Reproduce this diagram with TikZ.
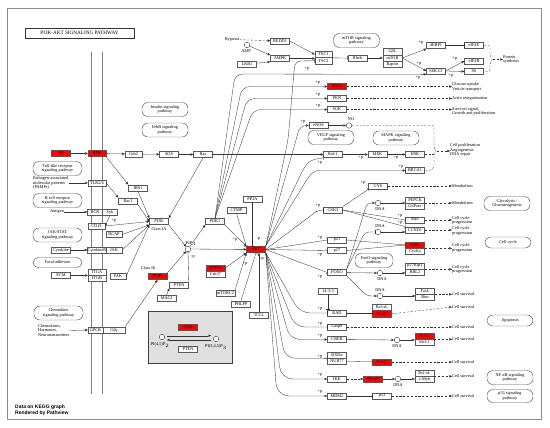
\documentclass[tikz,border=0pt]{standalone}
\usepackage{fontspec}
\setmainfont{Liberation Serif}
\newfontfamily\lsans{Liberation Sans}
\usetikzlibrary{arrows.meta,calc}
\newcommand\kf{\fontsize{4.3}{4.6}\selectfont}
\begin{document}
\begin{tikzpicture}[x=1pt,y=-1pt,
 gb/.style={draw=black!65,line width=0.4pt,fill=white,minimum width=19pt,minimum height=6.3pt,inner sep=0pt,font=\kf},
 rb/.style={gb,fill=red},
 pw/.style={draw=black!65,line width=0.45pt,rounded corners=6pt,minimum width=46pt,minimum height=14pt,inner sep=0pt,align=center,font=\kf},
 tx/.style={inner sep=0pt,font=\kf,align=left},
 cir/.style={circle,draw=black!75,line width=0.4pt,fill=white,minimum size=5.5pt,inner sep=0pt},
 ln/.style={line width=0.32pt,draw=black!80},
 ar/.style={ln,-{Triangle[length=2.7pt,width=2.3pt]}},
 ih/.style={ln,-{Bar[width=4.2pt]}},
 ds/.style={ln,dash pattern=on 2.2pt off 1.6pt},
 dar/.style={ds,-{Triangle[length=2.7pt,width=2.3pt]}},
]
\useasboundingbox (0,0) rectangle (550,428);
\fill[white] (0,0) rectangle (550,428);
\draw[black!45,line width=1pt] (7,9) rectangle (541,419);
% membrane
\draw[black!50,line width=0.9pt] (91,52) -- (91,394);
\draw[black!50,line width=0.9pt] (102,52) -- (102,394);
% title
\node[draw=black!80,line width=0.7pt,minimum width=109pt,minimum height=10pt,inner sep=0pt,font=\fontsize{5.2}{6}\selectfont] (title) at (79.5,33) {PI3K-AKT SIGNALING PATHWAY};

% ---------- top ----------
\node[tx] (hyp) at (232,39.5) {Hypoxia};
\node[gb] (redd1) at (280,41) {REDD1};
\node[cir] (amp) at (247,45) {};
\node[tx] (ampl) at (246,51.5) {AMP};
\node[gb] (lkb1) at (247,64) {LKB1};
\node[gb] (ampk) at (280,58.5) {AMPK};
\node[gb,minimum width=17pt] (tsc1) at (323.5,54.5) {TSC1};
\node[gb,minimum width=17pt] (tsc2) at (323.5,60.8) {TSC2};
\node[pw] (mtorpw) at (356.5,40.5) {mTOR signaling\\pathway};
\node[gb] (rheb) at (357.5,58) {Rheb};
\node[gb] (gbl) at (392.5,51.7) {GβL};
\node[gb] (mtor) at (392.5,58) {mTOR};
\node[gb] (raptor) at (392.5,64.3) {Raptor};
\node[gb] (ebp) at (436,45.5) {4EBP1};
\node[gb] (eif4e) at (474,45.5) {eIF4E};
\node[gb] (eif4b) at (474,61) {eIF4B};
\node[gb] (s6) at (474,71.5) {S6};
\node[gb] (s6k) at (436,71) {S6K1/2};
\node[tx,anchor=west] (psyn) at (503,59.5) {Protein\\synthesis};

\node[rb] (pkc) at (337,86.5) {PKCs};
\node[gb] (pkn) at (337,98.5) {PKN};
\node[gb] (sgk) at (337,109.5) {SGK};
\node[tx,anchor=west] (glu) at (452,87) {Glucose uptake\\Vesicle transport};
\node[tx,anchor=west] (act) at (452,98.5) {Actin reorganization};
\node[tx,anchor=west] (surv) at (452,111.5) {Survival signal,\\Growth and proliferation};
\node[gb] (enos) at (318.5,125.5) {eNOS};
\node[cir] (no) at (349,125.5) {};
\node[tx] (nol) at (351,119.5) {NO};
\node[pw] (vegf) at (331,137.5) {VEGF signaling\\pathway};
\node[pw] (mapk) at (396,138) {MAPK signaling\\pathway};
\node[gb] (raf1) at (333,154.5) {Raf-1};
\node[gb] (mek) at (377.5,154.5) {MEK};
\node[gb] (erk) at (415,154.5) {ERK};
\node[gb] (brca1) at (415,170.5) {BRCA1};
\node[tx,anchor=west] (cprol) at (450,150) {Cell proliferation\\Angiogenesis\\DNA repair};

\node[gb] (gys) at (378,186) {GYS};
\node[tx,anchor=west] (met1) at (452,186) {Metabolism};
\node[gb] (gsk3) at (333,210) {GSK3};
\node[cir] (dna1) at (378,203) {};
\node[tx] (dna1l) at (380,209) {DNA};
\node[gb] (pepck) at (415,200) {PEPCK};
\node[gb] (g6pase) at (415,206.3) {G6Pase};
\node[tx,anchor=west] (met2) at (452,203.2) {Metabolism};
\node[pw] (glyc) at (507,203.5) {Glycolysis /\\Gluconeogenesis};
\node[gb] (myc) at (415,220) {Myc};
\node[gb] (ccnd1) at (415,230) {CCND1};
\node[cir] (dna2) at (378,232) {};
\node[tx] (dna2l) at (380,226.5) {DNA};
\node[tx,anchor=west] (ccp1) at (452,220.5) {Cell cycle\\progression};
\node[tx,anchor=west] (ccp2) at (452,231) {Cell cycle\\progression};
\node[rb] (cdk) at (415,245) {CDK};
\node[gb] (cyclin) at (415,251.3) {Cyclin};
\node[tx,anchor=west] (ccp3) at (452,248) {Cell cycle\\progression};
\node[pw,minimum height=11pt] (ccyc) at (508,242.5) {Cell cycle};
\node[gb] (p21) at (337,240) {p21};
\node[gb] (p27) at (337,250.5) {p27};
\node[pw,minimum width=38pt] (foxopw) at (374,260.5) {FoxO signaling\\pathway};
\node[gb] (foxo) at (337,272.5) {FOXO};
\node[cir] (dna3) at (380,273) {};
\node[tx] (dna3l) at (382,279) {DNA};
\node[gb] (p27k) at (415,266) {p27Kip1};
\node[gb] (rbl2) at (415,272.3) {RBL2};
\node[tx,anchor=west] (ccp4) at (452,269.5) {Cell cycle\\progression};

% ---------- lower right ----------
\node[gb] (n1433) at (328,291) {14-3-3};
\node[cir] (dna4) at (380,296) {};
\node[tx] (dna4l) at (380,290) {DNA};
\node[gb] (fasl) at (425,291) {FasL};
\node[gb] (bim) at (425,297.3) {Bim};
\node[tx,anchor=west] (cs1) at (452,294.5) {Cell survival};
\node[gb] (bad) at (337,313) {BAD};
\node[gb] (bclxl1) at (382,307.5) {Bcl-xL};
\node[rb] (bcl2a) at (382,313.8) {Bcl-2};
\node[tx,anchor=west] (cs2) at (452,307) {Cell survival};
\node[pw,minimum height=11pt] (apop) at (510,320.5) {Apoptosis};
\node[gb] (casp9) at (337,327) {Casp9};
\node[tx,anchor=west] (cs3) at (452,327) {Cell survival};
\node[gb] (creb) at (337,339.5) {CREB};
\node[cir] (dna5) at (397,340) {};
\node[tx] (dna5l) at (397,346) {DNA};
\node[rb] (bcl2b) at (424.5,336) {Bcl-2};
\node[gb] (mcl1) at (424.5,342.3) {Mcl-1};
\node[tx,anchor=west] (cs4) at (452,339.2) {Cell survival};
\node[gb] (rxra) at (337,355) {RXRα};
\node[gb] (nur77) at (337,361.3) {NUR77};
\node[rb] (bcl2c) at (382,362) {Bcl-2};
\node[tx,anchor=west] (cs5) at (452,362) {Cell survival};
\node[gb] (ikk) at (337,379) {IKK};
\node[rb] (nfkb) at (373,379) {NF-κB};
\node[cir] (dna6) at (398,379) {};
\node[tx] (dna6l) at (398,385) {DNA};
\node[gb] (bclxl2) at (424.5,373) {Bcl-xL};
\node[gb] (cmyb) at (424.5,379.3) {c-Myb};
\node[tx,anchor=west] (cs6) at (452,376.2) {Cell survival};
\node[pw] (nfkbpw) at (510,377.5) {NF-κB signaling\\pathway};
\node[gb] (mdm2) at (337,396) {MDM2};
\node[gb] (p53) at (382,396) {p53};
\node[tx,anchor=west] (cs7) at (452,396) {Cell survival};
\node[pw,minimum height=13pt] (p53pw) at (510,396) {p53 signaling\\pathway};

% ---------- left ----------
\node[rb] (gf) at (61,153.5) {GF};
\node[rb,minimum width=18pt] (rtk) at (97,153.5) {RTK};
\node[gb,minimum width=17pt] (grb2) at (133.5,154) {Grb2};
\node[gb] (sos) at (169,154.5) {SOS};
\node[gb] (ras) at (203,154.5) {Ras};
\node[pw] (insul) at (165,109.5) {Insulin signaling\\pathway};
\node[pw] (erbb) at (165,130) {ErbB signaling\\pathway};
\node[pw,minimum width=49pt] (tlr) at (57.5,168.5) {Toll-like receptor\\signaling pathway};
\node[tx,anchor=west] (pamp) at (33,183) {Pathogen-associated\\molecular patterns\\(PAMPs)};
\node[gb,minimum width=18pt] (tlr24) at (97,183) {TLR2/4};
\node[gb] (irs1) at (138,188) {IRS1};
\node[gb] (rac1) at (128,201) {Rac1};
\node[pw,minimum width=49pt] (bcell) at (57.5,200.5) {B cell receptor\\signaling pathway};
\node[tx] (antigen) at (57,212) {Antigen};
\node[gb,minimum width=15pt] (bcr) at (95,212) {BCR};
\node[gb,minimum width=15pt] (syk) at (110,212) {Syk};
\node[gb,minimum width=17pt] (cd19) at (96.5,226) {CD19};
\node[gb,minimum width=16pt] (bcap) at (114,234.5) {BCAP};
\node[pw,minimum width=49pt] (jakstat) at (57.5,235) {JAK/STAT\\signaling pathway};
\node[gb] (cytok) at (61,250) {Cytokine};
\node[gb,minimum width=18pt] (cytokr) at (97,250) {CytokineR};
\node[gb,minimum width=16pt] (jak) at (114,250) {JAK};
\node[pw,minimum width=49pt,minimum height=10pt] (focal) at (57.5,262.5) {Focal adhesion};
\node[gb] (ecm) at (61,275.5) {ECM};
\node[gb,minimum width=18pt] (itga) at (97,272) {ITGA};
\node[gb,minimum width=18pt] (itgb) at (97,278.3) {ITGB};
\node[gb,minimum width=16pt] (fak) at (118,276) {FAK};
\node[pw,minimum width=49pt] (chemo) at (58.5,313) {Chemokine\\signaling pathway};
\node[tx,anchor=west] (chemk) at (38,330.5) {Chemokines,\\Hormones,\\Neurotransmitters};
\node[gb,minimum width=15pt] (gpcr) at (95.5,330) {GPCR};
\node[gb,minimum width=22pt] (gbg) at (114,330) {Gβγ};

% ---------- center ----------
\node[gb] (pi3k) at (159,221.5) {PI3K};
\node[tx] (cl1a) at (159,228.8) {Class IA};
\node[gb] (pdk1) at (215,221.5) {PDK1};
\node[gb] (ctmp) at (236.5,210) {CTMP};
\node[gb] (pp2a) at (252.5,199) {PP2A};
\node[cir] (pip3) at (188,249) {};
\node[tx] (pip3l) at (191,243.5) {PIP$_3$};
\node[rb] (akt) at (256,249.5) {AKT};
\node[tx] (cl1b) at (148,268) {Class Ib};
\node[rb] (pi3kb) at (157.5,276.5) {PI3K};
\node[rb] (hsp90) at (215.5,268) {HSP90};
\node[gb] (cdc37) at (215.5,274.3) {Cdc37};
\node[gb] (pten) at (179,285) {PTEN};
\node[gb] (magi) at (166.5,298.5) {MAGI};
\node[gb] (mtorc2) at (225.5,293) {mTORC2};
\node[gb] (phlpp) at (241,304) {PHLPP};
\node[gb] (tcl1) at (259,315) {TCL1};
% legend
\node[draw=black!75,line width=0.8pt,fill=black!12,minimum width=84pt,minimum height=52pt,inner sep=0pt] (leg) at (190,337) {};
\node[rb] (lpi3k) at (188,327) {PI3K};
\node[cir] (lc1) at (162,337) {};
\node[tx] (lc1l) at (160,345) {PI(4,5)P$_2$};
\node[cir] (lc2) at (216,339) {};
\node[tx] (lc2l) at (216,347) {PI(3,4,5)P$_3$};
\node[gb] (lpten) at (188,349) {PTEN};
\node[tx,anchor=west,font=\lsans\bfseries\fontsize{5}{5.8}\selectfont] (credit) at (15,410.5) {Data on KEGG graph\\Rendered by Pathview};

% ---------- p labels ----------
\node[tx] (q1) at (421,43) {+p};
\node[tx] (q2) at (419,63.5) {+p};
\node[tx] (q3) at (418,78) {+p};
\node[tx] (q4) at (455,58.5) {+p};
\node[tx] (q5) at (451,75.5) {+p};
\node[tx] (q6) at (307,69) {+p};
\node[tx] (q7) at (318,83) {+p};
\node[tx] (q8) at (318,95) {+p};
\node[tx] (q9) at (318,106) {+p};
\node[tx] (q10) at (303,122) {+p};
\node[tx] (q11) at (320,163) {+p};
\node[tx] (q12) at (361,158) {+p};
\node[tx] (q13) at (396,158) {+p};
\node[tx] (q14) at (401,166.5) {+p};
\node[tx] (q15) at (363,183) {+p};
\node[tx] (q16) at (318,205.5) {+p};
\node[tx] (q17) at (400,215.5) {+p};
\node[tx] (q18) at (400,223) {+p};
\node[tx] (q19) at (320,237.5) {+p};
\node[tx] (q20) at (320,255) {+p};
\node[tx] (q21) at (320,276.5) {+p};
\node[tx] (q22) at (320,309) {+p};
\node[tx] (q23) at (320,323.5) {+p};
\node[tx] (q24) at (320,336) {+p};
\node[tx] (q25) at (320,356.5) {+p};
\node[tx] (q26) at (320,375) {+p};
\node[tx] (q27) at (320,391.5) {+p};
\node[tx] (q28) at (235,240) {+p};
\node[tx] (q29) at (258.5,239) {-p};
\node[tx] (q30) at (245,264) {+p};
\node[tx] (q31) at (193,257) {-p};
\node[tx] (q32) at (114,220.5) {+p};
\node[tx] (q33) at (262,259) {-p};

% ---------- connectors: top ----------
\draw[dar] (hyp) -- (redd1);
\draw[ar] (amp) -- (ampk.north west);
\draw[ar] (lkb1) -- (ampk.south west);
\draw[ar] (redd1.east) -- (tsc1.west);
\draw[ar] (ampk.east) -- (ampk.east -| tsc1.west);
\draw[ih] (tsc1.south east) -- (rheb.west);
\draw[ar] (rheb) -- (mtor);
\draw[ar] (mtor.east) -- (ebp.south west);
\draw[ar] (mtor.east) -- (s6k.west);
\draw[ih] (ebp) -- (eif4e);
\draw[ar] (s6k.east) -- (eif4b.west);
\draw[ar] (s6k.east) -- (s6.west);
\draw[ds,rounded corners=2pt] (eif4e.east) -- (490,45.5) -- (490,57) -- (493,59.5) -- (490,62) -- (490,71.5) -- (s6.east);
\coordinate (psb) at (493,59.5);
\draw[dar] (psb) -- (psyn.west);
% PDK1 fan
\draw[ar,rounded corners=8pt] (pdk1.north) -- (235,74) -- (s6k.south west);
\draw[ar,rounded corners=8pt] (pdk1.north) -- (242,86.5) -- (pkc.west);
\draw[ar,rounded corners=8pt] (pdk1.north) -- (247,98.5) -- (pkn.west);
\draw[ar,rounded corners=8pt] (pdk1.north) -- (253,109.5) -- (sgk.west);
\draw[dar] (pkc.east) -- (pkc.east -| glu.west);
\draw[dar] (pkn) -- (act.west);
\draw[dar] (sgk.east) -- (sgk.east -| surv.west);
% AKT up fan
\draw[ih,rounded corners=6pt] (akt.north east) -- (288,140) -- (295,61) -- (tsc2.west);
\draw[ar,rounded corners=6pt] (akt.north east) -- (296,140) -- (300,125.5) -- (enos.west);
\draw[ih,rounded corners=4pt] (akt.north east) -- (305,166) -- (311,160) -- (raf1.south west);
\draw[ar,rounded corners=5pt] (akt.north east) -- (308,178) -- (314,170.5) -- (brca1.west);
\draw[ih,rounded corners=5pt] (akt.east) -- (313,214) -- (318,210) -- (gsk3.west);
\draw[ar] (enos) -- (no);
\draw[ds,rounded corners=2pt] (no.east) -- (434,125.5) -- (434,149) -- (437,151) -- (434,153) -- (434,168) -- (431,170.5) -- (brca1.east);
\draw[ds] (erk.east) -- (434,154.5);
\coordinate (cpb) at (437,151);
\draw[dar] (cpb) -- (cpb -| cprol.west);
\draw[ar] (ras) -- (raf1);
\draw[ar] (raf1) -- (mek);
\draw[ar] (mek) -- (erk);
\draw[dar] (gys) -- (gys -| met1.west);
\draw[ih] (gsk3.north east) -- (gys.south west);
\draw[ih] (gsk3.east) -- (myc.west);
\draw[ih] (gsk3.east) -- (ccnd1.north west);
% FOXO outputs
\draw[ar,rounded corners=4pt] (foxo.north east) -- (367,203) -- (dna1);
\draw[ar] (dna1.east) -- (dna1.east -| pepck.west);
\draw[ih,rounded corners=4pt] (foxo.north east) -- (365,232) -- (dna2);
\draw[ar] (dna2.east) -- (dna2.east -| ccnd1.west);
\draw[ar] (foxo) -- (dna3);
\draw[ar] (dna3.east) -- (dna3.east -| p27k.west);
\draw[ar,rounded corners=4pt] (foxo.south east) -- (367,296) -- (dna4);
\draw[ar] (dna4.east) -- (dna4.east -| fasl.west);
\draw[dar] (g6pase.north east) -- (g6pase.north east -| met2.west);
\draw[dar] (myc.east) -- (myc.east -| ccp1.west);
\draw[dar] (ccnd1.east) -- (ccnd1.east -| ccp2.west);
\draw[dar] (cdk.south east) -- (cdk.south east -| ccp3.west);
\draw[dar] (p27k.south east) -- (p27k.south east -| ccp4.west);
\draw[ih] (p21.east) -- (cdk.west);
\draw[ih] (p27.east) -- (cdk.west);
% AKT right/down fan
\draw[ih] (akt.east) -- (p21.west);
\draw[ih] (akt.east) -- (p27.west);
\draw[ih] (akt.east) -- (foxo.west);
\draw[ih,rounded corners=10pt] (akt.south east) -- (300,313) -- (bad.west);
\draw[ih,rounded corners=10pt] (akt.south east) -- (295,327) -- (casp9.west);
\draw[ar,rounded corners=10pt] (akt.south east) -- (290,339.5) -- (creb.west);
\draw[ih,rounded corners=10pt] (akt.south east) -- (285,358.2) -- (rxra.south west);
\draw[ar,rounded corners=12pt] (akt.south east) -- (281,379) -- (ikk.west);
\draw[ar,rounded corners=12pt] (akt.south east) -- (277,396) -- (mdm2.west);
\draw[ih] (n1433.south) -- (n1433.south |- bad.north);
\draw[dar] (fasl.south east) -- (fasl.south east -| cs1.west);
\draw[ih] (bad.east) -- (bad.east -| bcl2a.west);
\draw[dar] (bcl2a.east) -- (cs2.west);
\draw[dar] (casp9) -- (casp9 -| cs3.west);
\draw[ar] (creb) -- (dna5);
\draw[ar] (dna5.east) -- (dna5.east -| bcl2b.west);
\draw[dar] (bcl2b.south east) -- (bcl2b.south east -| cs4.west);
\draw[ih] (nur77) -- (bcl2c);
\draw[dar] (bcl2c) -- (cs5.west);
\draw[dar] (ikk) -- (nfkb);
\draw[ar] (nfkb) -- (dna6);
\draw[ar] (dna6.east) -- (dna6.east -| bclxl2.west);
\draw[dar] (bclxl2.south east) -- (bclxl2.south east -| cs6.west);
\draw[ih] (mdm2) -- (p53);
\draw[dar] (p53) -- (cs7.west);

% ---------- connectors: left ----------
\draw[ar] (gf) -- (rtk);
\draw[ar] (rtk) -- (grb2);
\draw[ar] (grb2) -- (sos);
\draw[ar] (sos) -- (ras);
\draw[ar] (rtk.south east) -- (irs1.north west);
\draw[ar] (irs1.south) -- (pi3k.north west);
\draw[ar] (ras.south) -- (pi3k.north east);
\draw[ar] (pamp.east) -- (tlr24.west);
\draw[ar] (tlr24.east) -- (rac1.north west);
\draw[ar] (rac1.south east) -- (pi3k.west);
\draw[ar] (antigen) -- (bcr);
\draw[ar] (syk.south) -- (cd19.east);
\draw[ar] (cd19.east) -- (pi3k.west);
\draw[ar] (bcap.east) -- (pi3k.south west);
\draw[ar] (cytok) -- (cytokr);
\draw[ar] (jak.east) -- (pi3k.south west);
\draw[ar] (ecm.east) -- (ecm.east -| itga.west);
\draw[ar] (fak.east) -- (pi3k.south west);
\draw[ar] (chemk.east) -- (gpcr.west);
\draw[ar] (gbg.north east) -- (pi3kb.south);
% ---------- connectors: center ----------
\draw[ar] (pi3k.south east) -- (pip3);
\draw[ar] (pi3kb.north east) -- (pip3);
\draw[ar] (pip3) -- (pdk1.south west);
\draw[ar] (pip3) -- (akt);
\draw[ar] (pdk1.south east) -- (akt.north west);
\draw[ih] (ctmp.south) -- (akt.north west);
\draw[ih] (pp2a.south) -- (pp2a.south |- akt.north);
\draw[ih] (pten.north east) -- (pip3.south);
\draw[ar] (magi.north) -- (pten.south west);
\draw[ar] (mtorc2.north east) -- (akt.south west);
\draw[ar] (hsp90.east) -- (akt.south west);
\draw[ih] (phlpp.north) -- (akt.south);
\draw[ar] (tcl1.north) -- (tcl1.north |- akt.south);
\draw[ar] ($(lc1.east)+(2,-1.3)$) -- ($(lc2.west)+(-2,-3.3)$);
\draw[ar] ($(lc2.west)+(-2,1)$) -- ($(lc1.east)+(2,3)$);
\end{tikzpicture}
\end{document}
